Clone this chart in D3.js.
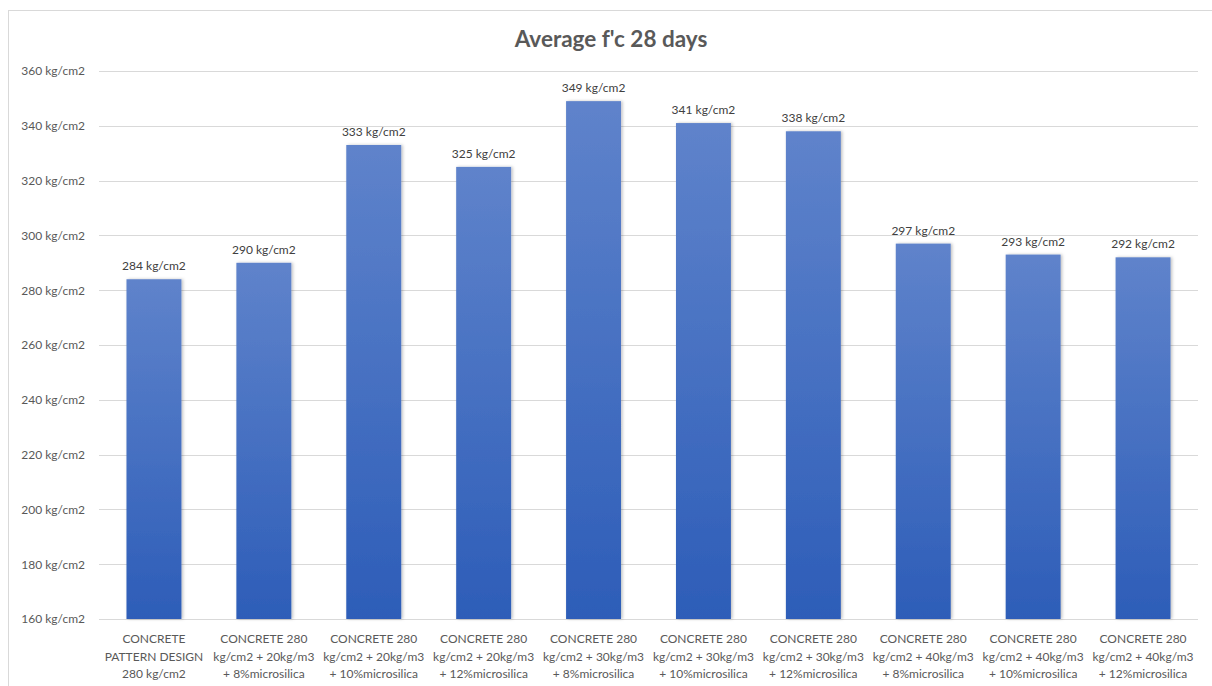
<!DOCTYPE html>
<html><head><meta charset="utf-8">
<script src="https://cdn.jsdelivr.net/npm/d3@7"></script>
<style>body{margin:0;background:#fff;} svg{display:block;font-family:Lato,"Open Sans",sans-serif;}</style>
</head><body>
<svg id="c" width="1212" height="686"></svg>
<script>
const categories = [
  ["CONCRETE","PATTERN DESIGN","280 kg/cm2"],
  ["CONCRETE 280","kg/cm2 + 20kg/m3","+ 8%microsilica"],
  ["CONCRETE 280","kg/cm2 + 20kg/m3","+ 10%microsilica"],
  ["CONCRETE 280","kg/cm2 + 20kg/m3","+ 12%microsilica"],
  ["CONCRETE 280","kg/cm2 + 30kg/m3","+ 8%microsilica"],
  ["CONCRETE 280","kg/cm2 + 30kg/m3","+ 10%microsilica"],
  ["CONCRETE 280","kg/cm2 + 30kg/m3","+ 12%microsilica"],
  ["CONCRETE 280","kg/cm2 + 40kg/m3","+ 8%microsilica"],
  ["CONCRETE 280","kg/cm2 + 40kg/m3","+ 10%microsilica"],
  ["CONCRETE 280","kg/cm2 + 40kg/m3","+ 12%microsilica"]
];
const values = [284, 290, 333, 325, 349, 341, 338, 297, 293, 292];
const yTicks = [160, 180, 200, 220, 240, 260, 280, 300, 320, 340, 360];
const title = "Average f'c 28 days";

const svg = d3.select("#c");
const pLeft = 99, pRight = 1198, pTop = 71, pBottom = 619;

svg.append("rect").attr("x",8.5).attr("y",10.5).attr("width",1220).attr("height",700)
  .attr("fill","none").attr("stroke","#d9d9d9");

const defs = svg.append("defs");
const g = defs.append("linearGradient").attr("id","bg").attr("x1",0).attr("y1",0).attr("x2",0).attr("y2",1);
g.append("stop").attr("offset","0%").attr("stop-color","#5F83CB");
g.append("stop").attr("offset","100%").attr("stop-color","#2D5DB8");
const f = defs.append("filter").attr("id","sh").attr("x","-20%").attr("y","-5%").attr("width","140%").attr("height","110%");
f.append("feDropShadow").attr("dx",1.5).attr("dy",0).attr("stdDeviation",1.5).attr("flood-color","#000").attr("flood-opacity",0.25);

const x = d3.scaleBand().domain(d3.range(values.length)).range([pLeft, pRight]).paddingInner(0.5).paddingOuter(0.25);
const y = d3.scaleLinear().domain([160, 360]).range([pBottom, pTop]);

// gridlines
svg.append("g").selectAll("line").data(yTicks).join("line")
  .attr("x1",pLeft).attr("x2",pRight)
  .attr("y1",d=>Math.round(y(d))+0.5).attr("y2",d=>Math.round(y(d))+0.5)
  .attr("stroke","#d9d9d9").attr("stroke-width",1);

// y axis labels
const yAxis = svg.append("g").attr("transform",`translate(${pLeft},0)`)
  .call(d3.axisLeft(y).tickValues(yTicks).tickSize(0).tickPadding(14).tickFormat(d=>d+" kg/cm2"));
yAxis.select(".domain").remove();
yAxis.selectAll("text").attr("fill","#595959").style("font-size","12px").style("font-family","Lato,'Open Sans',sans-serif");

// bars
svg.append("g").selectAll("rect").data(values).join("rect")
  .attr("x",(d,i)=>x(i)).attr("width",x.bandwidth())
  .attr("y",d=>y(d)).attr("height",d=>y(160)-y(d))
  .attr("fill","url(#bg)").attr("filter","url(#sh)");

// data labels
svg.append("g").selectAll("text").data(values).join("text")
  .attr("x",(d,i)=>x(i)+x.bandwidth()/2).attr("y",d=>y(d)-9)
  .attr("text-anchor","middle").attr("fill","#404040").style("font-size","12px")
  .text(d=>d+" kg/cm2");

// x labels
const xl = svg.append("g").selectAll("text").data(categories).join("text")
  .attr("x",(d,i)=>x(i)+x.bandwidth()/2).attr("y",643)
  .attr("text-anchor","middle").attr("fill","#595959").style("font-size","12px");
xl.selectAll("tspan").data(d=>d).join("tspan")
  .attr("x",function(){return this.parentNode.getAttribute("x");})
  .attr("dy",(d,i)=>i===0?0:17.5).text(d=>d);

// title
svg.append("text").attr("x",611).attr("y",47).attr("text-anchor","middle")
  .attr("fill","#595959").style("font-size","22.5px").style("font-weight","bold").text(title);
</script>
</body></html>
